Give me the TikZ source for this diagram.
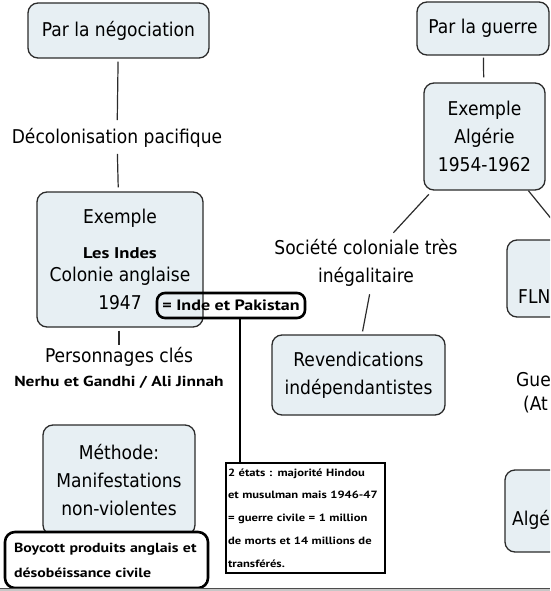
\documentclass[tikz,border=0pt]{standalone}
\usepackage{fontspec}
\setmainfont{DejaVu Sans Condensed}
\newfontfamily\comicfont{PT Sans}[FakeStretch=1.2]
\usepackage{tikz}
\usetikzlibrary{positioning}
\definecolor{boxblue}{HTML}{E7EFF3}
\definecolor{boxline}{HTML}{2B2B2B}
\tikzset{concept box/.style={draw=boxline, line width=1.3pt, fill=boxblue, rounded corners=10pt,
    align=center, inner sep=0pt, font=\fontsize{19}{28}\selectfont}}
\tikzset{link text/.style={align=center, inner sep=6pt, font=\fontsize{19}{28}\selectfont}}
\tikzset{link line/.style={draw=boxline, line width=1.2pt}}
\tikzset{note box/.style={draw=black, line width=2.6pt, rounded corners=8pt, inner sep=0pt,
    align=left, font=\comicfont\bfseries}}

\begin{document}
\begin{tikzpicture}[x=1pt,y=-1pt]
\clip (0,0) rectangle (550,591);

% left branch
\node[concept box, minimum width=181pt, minimum height=55pt] (neg) at (118.5,30.5) {Par la négociation};
\node[link text] (decol) at (117,138) {Décolonisation pacifique};
\node[concept box, minimum width=166pt, minimum height=135pt] (indes) at (120,259.5)
  {Exemple\\[7pt]{\comicfont\bfseries\fontsize{15.5}{20}\selectfont Les Indes}\\[-5pt]Colonie anglaise\\1947};
\node[note box, minimum width=148pt, minimum height=25pt, font=\comicfont\bfseries\fontsize{15}{18}\selectfont] (pak) at (231,305.5) {= Inde et Pakistan};
\node[link text, inner sep=2pt] (perso) at (119,357) {Personnages clés};
\node[inner sep=2pt, font=\comicfont\bfseries\fontsize{14.5}{18}\selectfont] (nerhu) at (119,382) {Nerhu et Gandhi / Ali Jinnah};
\node[concept box, minimum width=152pt, minimum height=110pt] (methode) at (119,480)
  {Méthode:\\Manifestations\\non-violentes};
\node[note box, fill=white, rounded corners=10pt, minimum width=203pt, minimum height=56pt,
  text width=185pt, inner xsep=9pt, font=\comicfont\bfseries\fontsize{13.2}{25}\selectfont] (boycott) at (106.5,560)
  {Boycott produits anglais et\\désobéissance civile};
\node[note box, fill=white, sharp corners, minimum width=159pt, minimum height=110pt,
  text width=155pt, inner xsep=2pt, font=\comicfont\bfseries\fontsize{10.5}{22.75}\selectfont] (etats) at (305.5,518)
  {2 états : majorité Hindou\\et musulman mais 1946-47\\= guerre civile = 1 million\\de morts et 14 millions de\\transférés.};

\draw[link line, shorten <=3pt, shorten >=2pt] (neg) -- (decol);
\draw[link line, shorten >=4pt] (decol) -- (indes);
\draw[link line, shorten <=3pt] (indes.south -| perso.north) -- (perso.north);
\draw[black, line width=1.8pt] ([xshift=9pt]pak.south) -- ([xshift=9pt]pak.south |- etats.north);

% right branch
\node[concept box, minimum width=132pt, minimum height=53pt] (guerre) at (483,28.5) {Par la guerre};
\node[concept box, minimum width=121pt, minimum height=107pt] (alg) at (484.5,136.5) {Exemple\\Algérie\\1954-1962};
\node[link text] (societe) at (366,262.5) {Société coloniale très\\inégalitaire};
\node[concept box, minimum width=173pt, minimum height=80pt] (revend) at (358.5,375) {Revendications\\indépendantistes};
\node[concept box, minimum width=122pt, minimum height=77pt] (fln) at (568,278.5) {};
\node[anchor=west, inner sep=0pt, font=\fontsize{19}{28}\selectfont] (flntxt) at (518,297) {FLN};
\node[anchor=west, inner sep=0pt, font=\fontsize{19}{28}\selectfont] (gue) at (516,380) {Gue};
\node[anchor=west, inner sep=0pt, font=\fontsize{19}{28}\selectfont] (att) at (523,405) {(At};
\node[concept box, minimum width=122pt, minimum height=82pt] (algbis) at (566,511) {};
\node[anchor=west, inner sep=0pt, font=\fontsize{19}{28}\selectfont] (algtxt) at (512,520) {Algé};

\draw[link line, shorten <=2pt, shorten >=5pt] (guerre) -- (alg);
\draw[link line, shorten <=5pt] (alg.-134) -- (societe);
\draw[link line] (alg.-51.5) -- (fln.north);
\draw[link line, shorten <=2pt, shorten >=3pt] ([xshift=4pt]societe.south) -- ([xshift=3.5pt]revend.north);

% bottom edge of the screen
\fill[black!22] (0,588) rectangle (550,591);
\draw[black!70, line width=1pt] (0,588) -- (550,588);
\end{tikzpicture}
\end{document}
